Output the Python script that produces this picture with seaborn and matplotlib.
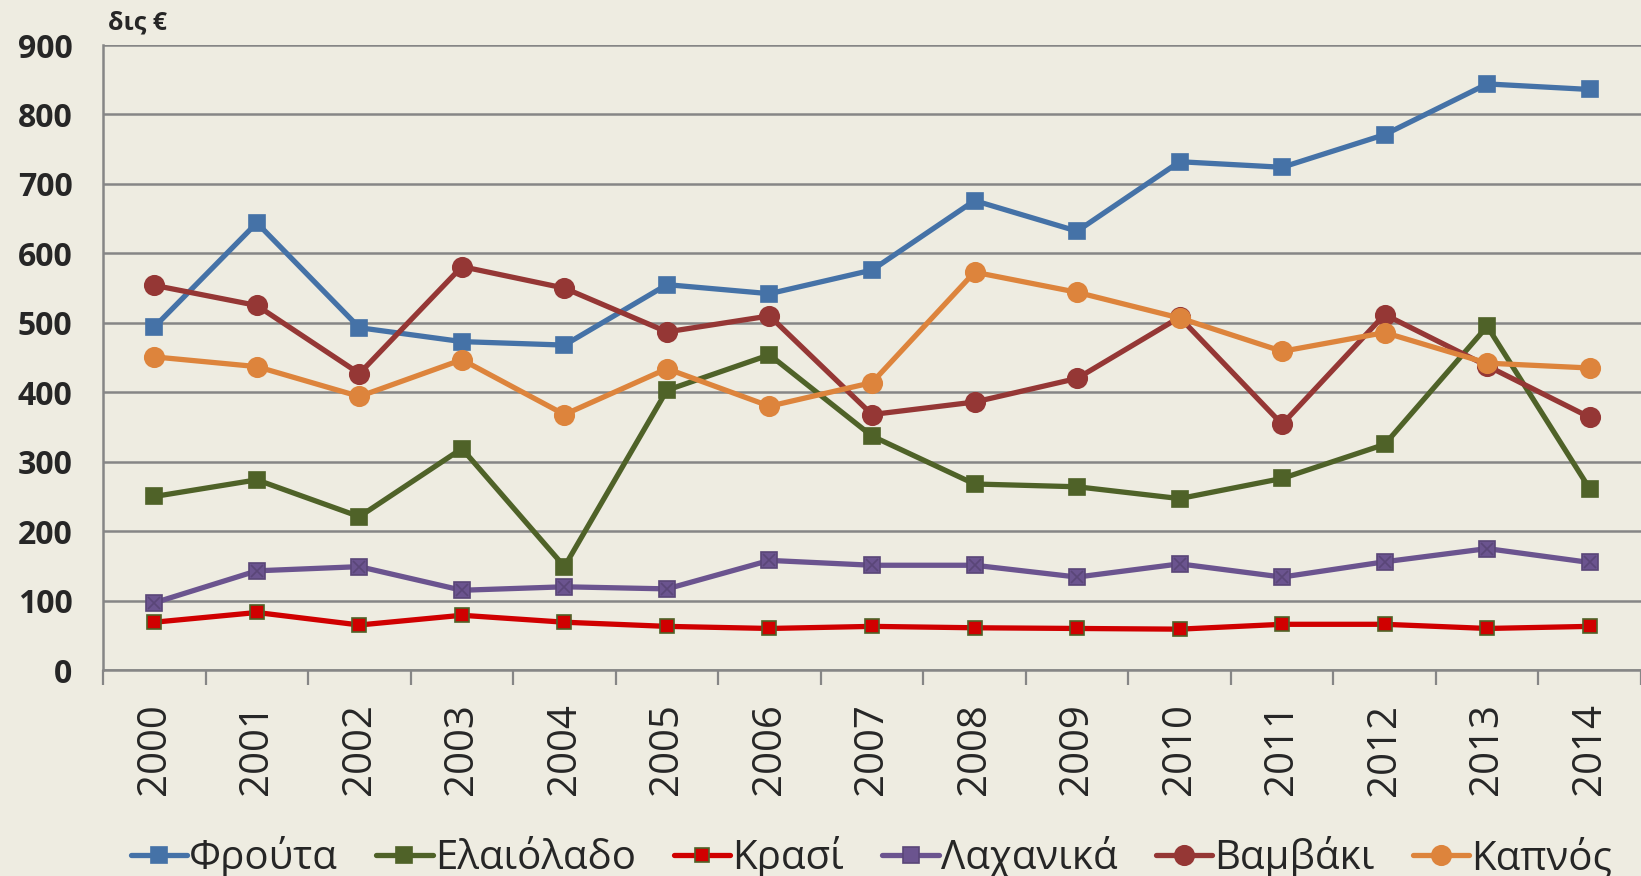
import pandas as pd
import seaborn as sns
import matplotlib.pyplot as plt

# values (δις €)
years = [str(y) for y in range(2000, 2015)]
frouta = [494, 644, 493, 473, 468, 555, 542, 576, 676, 632, 732, 724, 771, 844, 836]
elaiolado = [250, 274, 221, 319, 149, 403, 454, 337, 268, 264, 247, 276, 325, 495, 261]
krasi = [69, 83, 65, 79, 69, 63, 60, 63, 61, 60, 59, 66, 66, 60, 63]
laxanika = [97, 143, 149, 115, 120, 117, 158, 151, 151, 134, 153, 134, 156, 175, 155]
vamvaki = [554, 525, 427, 581, 550, 487, 510, 368, 386, 420, 508, 354, 512, 438, 364]
kapnos = [451, 437, 394, 447, 368, 434, 380, 414, 573, 544, 507, 459, 486, 442, 435]

series_names = ['Φρούτα', 'Ελαιόλαδο', 'Κρασί', 'Λαχανικά', 'Βαμβάκι', 'Καπνός']
series_vals = [frouta, elaiolado, krasi, laxanika, vamvaki, kapnos]

colors = ['#4572A7', '#4F6228', '#D00000', '#6B548F', '#953735', '#DD843C']
marker_edges = ['#4572A7', '#4F6228', '#4F6228', '#5A4678', '#953735', '#DD843C']
markers = ['s', 's', 's', 's', 'o', 'o']
msizes = [11, 11, 10, 11, 14, 14]

rows = []
for name, vals in zip(series_names, series_vals):
    for i, v in enumerate(vals):
        rows.append({'idx': i, 'year': years[i], 'series': name, 'value': v})
df = pd.DataFrame(rows)

bg = '#EEECE1'
sns.set_theme(style='white')
plt.rcParams['font.family'] = ['Open Sans', 'DejaVu Sans']

fig = plt.figure(figsize=(16.41, 8.76), dpi=100, facecolor=bg)
ax = fig.add_axes([0.0628, 0.235, 0.9372, 0.7136])
ax.set_facecolor(bg)

for k, name in enumerate(series_names):
    sub = df[df['series'] == name]
    sns.lineplot(data=sub, x='idx', y='value', ax=ax, color=colors[k],
                 linewidth=3.8, marker=markers[k], markersize=msizes[k],
                 markerfacecolor=colors[k], markeredgecolor=marker_edges[k],
                 markeredgewidth=1.2, label=name, zorder=3 + k)
    if name == 'Λαχανικά':
        ax.plot(sub['idx'], sub['value'], linestyle='none', marker='x',
                markersize=8, color='#5A4678', markeredgewidth=1.2, zorder=3 + k)

ax.set_xlim(-0.5, 14.5)
ax.set_ylim(0, 900)
ax.set_yticks(range(0, 901, 100))
ax.set_yticklabels([str(v) for v in range(0, 901, 100)], fontsize=23, fontweight='bold')
ax.set_xticks(range(15))
ax.set_xticklabels(years, rotation=90, fontsize=29)
ax.tick_params(axis='x', length=0, pad=24)
ax.tick_params(axis='y', length=0, pad=22)
# minor ticks between categories, like the original axis
ax.set_xticks([i - 0.5 for i in range(16)], minor=True)
ax.tick_params(axis='x', which='minor', length=11, width=1.6, color='#868686', direction='out')
ax.xaxis.set_ticks_position('bottom')

ax.grid(axis='y', color='#868686', linewidth=1.8)
ax.set_axisbelow(True)
for s in ['top', 'right']:
    ax.spines[s].set_visible(False)
for s in ['left', 'bottom']:
    ax.spines[s].set_color('#868686')
    ax.spines[s].set_linewidth(1.8)
ax.set_xlabel('')
ax.set_ylabel('')

fig.text(0.066, 0.974, 'δις €', fontsize=18, fontweight='bold', ha='left', va='center')

ax.legend(loc='lower center', bbox_to_anchor=(0.531, -0.022), bbox_transform=fig.transFigure,
          ncol=6, frameon=False, fontsize=29, handlelength=1.4, handletextpad=0.05,
          columnspacing=0.95, borderaxespad=0.0)

fig.savefig('out.png', dpi=100, facecolor=bg)
